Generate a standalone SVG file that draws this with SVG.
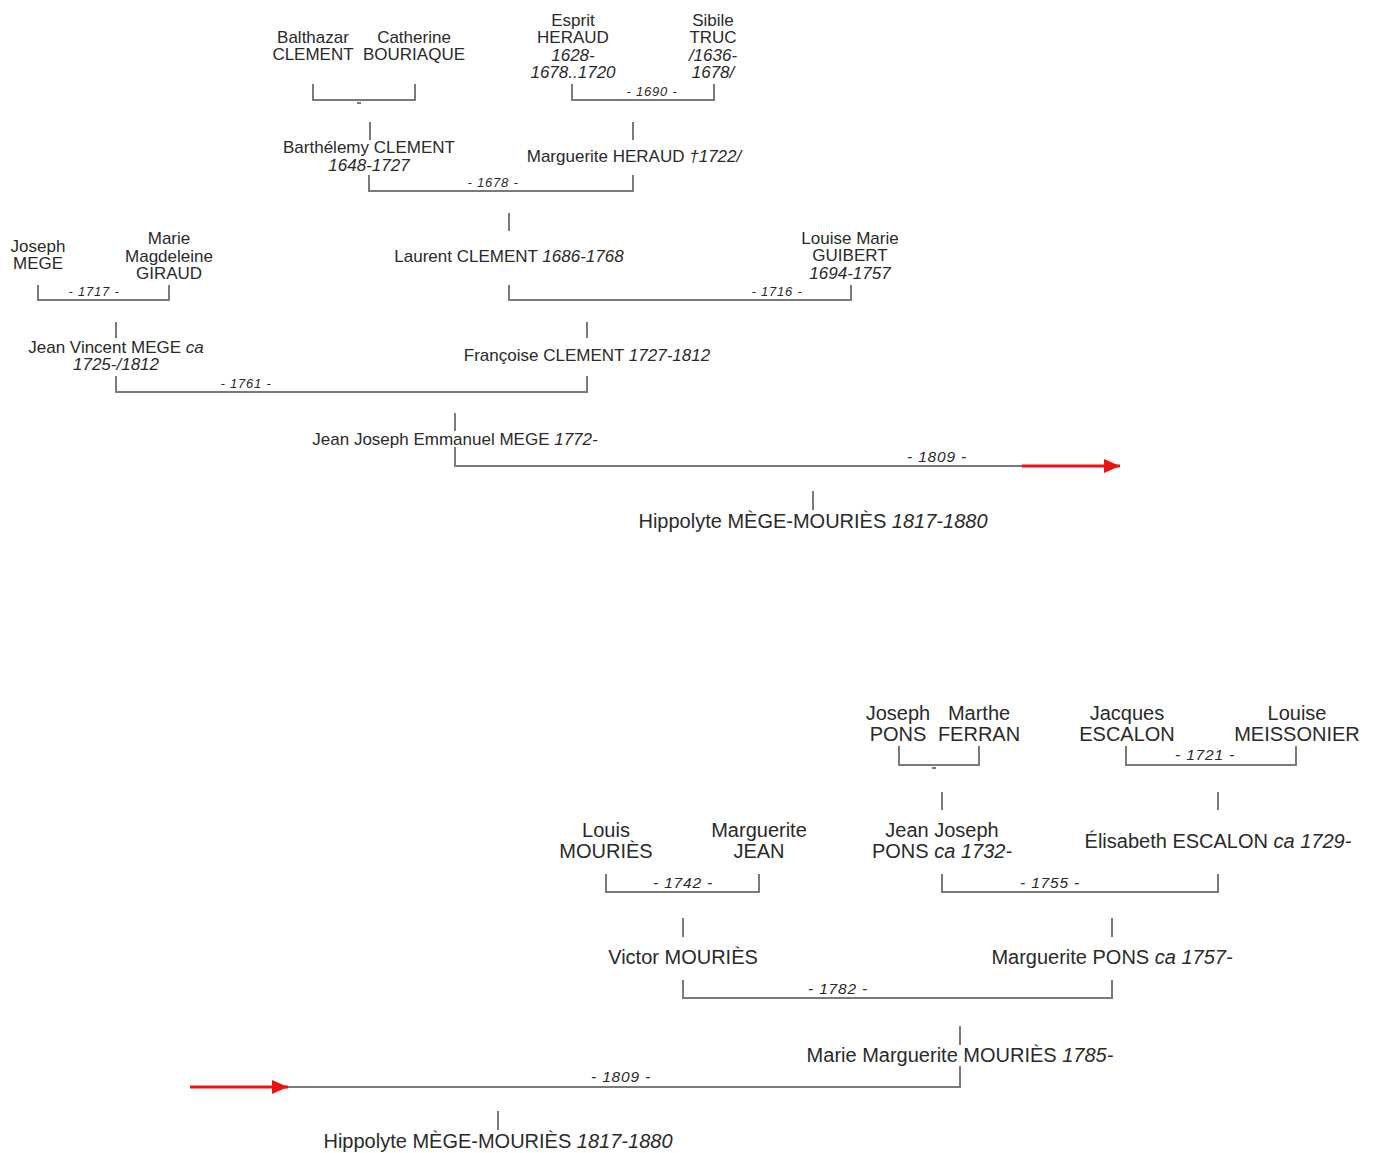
<svg xmlns="http://www.w3.org/2000/svg" width="1378" height="1153" viewBox="0 0 1378 1153">
<defs>
<style>
text{font-family:"Liberation Sans",Arial,sans-serif;fill:#2a2a2a;text-anchor:middle}
.t{font-size:17px}
.b{font-size:20px}
.i{font-style:italic}
.lt{font-size:13px;font-style:italic;letter-spacing:0.8px}
.lb{font-size:15.5px;font-style:italic;letter-spacing:0.8px}
.c{fill:none;stroke:#7a7a7a;stroke-width:2}
.r{fill:none;stroke:#ee1111;stroke-width:3}
</style>
<marker id="ah" viewBox="0 0 10 10" refX="10" refY="5" markerWidth="5.5" markerHeight="4.8" markerUnits="strokeWidth" orient="auto" preserveAspectRatio="none"><path d="M0,0 L10,5 L0,10 Z" fill="#ee1111"/></marker>
</defs>
<rect width="1378" height="1153" fill="#ffffff"/>
<g id="connectors">
<path class="c" d="M313,84V100H415V84"/><path class="c" d="M357,103H361"/>
<path class="c" d="M572,84V100H714V84"/>
<path class="c" d="M370,122V140M633,122V140"/>
<path class="c" d="M369,175V191H633V175"/>
<path class="c" d="M509,213V231"/>
<path class="c" d="M38,285V300H169V285"/>
<path class="c" d="M509,285V300H851V285"/>
<path class="c" d="M116,322V338M587,322V338"/>
<path class="c" d="M116,376V392H587V376"/>
<path class="c" d="M455,413V431"/>
<path class="c" d="M455,447V466H1022"/>
<path class="r" d="M1022,466H1120" marker-end="url(#ah)"/>
<path class="c" d="M813,491V510"/>
<path class="c" d="M899,746V765H979V746"/><path class="c" d="M932,768H936"/>
<path class="c" d="M1126,746V765H1296V746"/>
<path class="c" d="M942,792V810M1218,792V810"/>
<path class="c" d="M606,874V892H759V874"/>
<path class="c" d="M942,874V892H1218V874"/>
<path class="c" d="M683,918V937M1112,918V937"/>
<path class="c" d="M683,980V998H1112V980"/>
<path class="c" d="M960,1026V1045"/>
<path class="c" d="M960,1066V1087H288"/>
<path class="r" d="M190,1087H288" marker-end="url(#ah)"/>
<path class="c" d="M498,1111V1130"/>
</g>
<g id="labels">
<text class="lt" x="652" y="96">- 1690 -</text>
<text class="lt" x="493" y="187">- 1678 -</text>
<text class="lt" x="94" y="296">- 1717 -</text>
<text class="lt" x="777" y="296">- 1716 -</text>
<text class="lt" x="246" y="388">- 1761 -</text>
<text class="lb" x="937" y="462">- 1809 -</text>
<text class="lb" x="1205" y="760">- 1721 -</text>
<text class="lb" x="683" y="888">- 1742 -</text>
<text class="lb" x="1050" y="888">- 1755 -</text>
<text class="lb" x="838" y="994">- 1782 -</text>
<text class="lb" x="621" y="1082">- 1809 -</text>
</g>
<g id="balthazar"><text class="t" x="313" y="43">Balthazar</text><text class="t" x="313" y="60">CLEMENT</text></g>
<g id="catherine"><text class="t" x="414" y="43">Catherine</text><text class="t" x="414" y="60">BOURIAQUE</text></g>
<g id="esprit"><text class="t" x="573" y="26">Esprit</text><text class="t" x="573" y="43">HERAUD</text><text class="t i" x="573" y="61">1628-</text><text class="t i" x="573" y="78">1678..1720</text></g>
<g id="sibile"><text class="t" x="713" y="26">Sibile</text><text class="t" x="713" y="43">TRUC</text><text class="t i" x="713" y="61">/1636-</text><text class="t i" x="713" y="78">1678/</text></g>
<g id="barthelemy"><text class="t" x="369" y="153">Barthélemy CLEMENT</text><text class="t i" x="369" y="171">1648-1727</text></g>
<g id="marguerite-heraud"><text class="t" x="634" y="162">Marguerite HERAUD <tspan class="i">†1722/</tspan></text></g>
<g id="laurent"><text class="t" x="509" y="262">Laurent CLEMENT <tspan class="i">1686-1768</tspan></text></g>
<g id="louise-marie"><text class="t" x="850" y="244">Louise Marie</text><text class="t" x="850" y="261">GUIBERT</text><text class="t i" x="850" y="279">1694-1757</text></g>
<g id="joseph-mege"><text class="t" x="38" y="252">Joseph</text><text class="t" x="38" y="269">MEGE</text></g>
<g id="marie-magdeleine"><text class="t" x="169" y="244">Marie</text><text class="t" x="169" y="262">Magdeleine</text><text class="t" x="169" y="279">GIRAUD</text></g>
<g id="jean-vincent"><text class="t" x="116" y="353">Jean Vincent MEGE <tspan class="i">ca</tspan></text><text class="t i" x="116" y="370">1725-/1812</text></g>
<g id="francoise"><text class="t" x="587" y="361">Françoise CLEMENT <tspan class="i">1727-1812</tspan></text></g>
<g id="jean-joseph-emmanuel"><text class="t" x="455" y="445">Jean Joseph Emmanuel MEGE <tspan class="i">1772-</tspan></text></g>
<g id="hippolyte-top"><text class="b" x="813" y="528">Hippolyte MÈGE-MOURIÈS <tspan class="i">1817-1880</tspan></text></g>
<g id="joseph-pons"><text class="b" x="898" y="720">Joseph</text><text class="b" x="898" y="741">PONS</text></g>
<g id="marthe"><text class="b" x="979" y="720">Marthe</text><text class="b" x="979" y="741">FERRAN</text></g>
<g id="jacques"><text class="b" x="1127" y="720">Jacques</text><text class="b" x="1127" y="741">ESCALON</text></g>
<g id="louise-meissonier"><text class="b" x="1297" y="720">Louise</text><text class="b" x="1297" y="741">MEISSONIER</text></g>
<g id="jean-joseph-pons"><text class="b" x="942" y="837">Jean Joseph</text><text class="b" x="942" y="858">PONS <tspan class="i">ca 1732-</tspan></text></g>
<g id="elisabeth"><text class="b" x="1218" y="848">Élisabeth ESCALON <tspan class="i">ca 1729-</tspan></text></g>
<g id="louis"><text class="b" x="606" y="837">Louis</text><text class="b" x="606" y="858">MOURIÈS</text></g>
<g id="marguerite-jean"><text class="b" x="759" y="837">Marguerite</text><text class="b" x="759" y="858">JEAN</text></g>
<g id="victor"><text class="b" x="683" y="964">Victor MOURIÈS</text></g>
<g id="marguerite-pons"><text class="b" x="1112" y="964">Marguerite PONS <tspan class="i">ca 1757-</tspan></text></g>
<g id="marie-marguerite"><text class="b" x="960" y="1062">Marie Marguerite MOURIÈS <tspan class="i">1785-</tspan></text></g>
<g id="hippolyte-bottom"><text class="b" x="498" y="1148">Hippolyte MÈGE-MOURIÈS <tspan class="i">1817-1880</tspan></text></g>
</svg>
